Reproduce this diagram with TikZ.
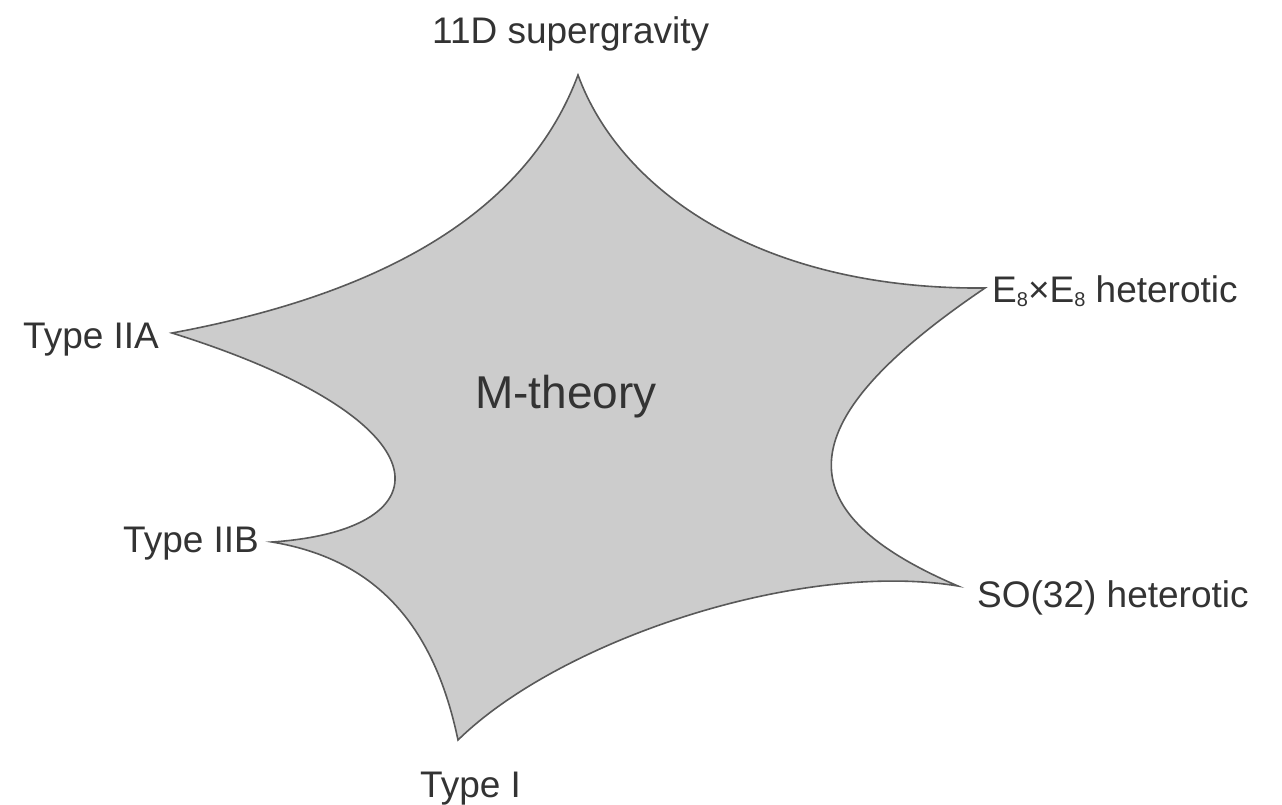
\documentclass[tikz,border=0pt]{standalone}
\usepackage{fontspec}
\setmainfont{Liberation Sans}
\newcommand{\smallsub}[1]{\raisebox{-0.25ex}{\fontsize{20}{24}\selectfont #1}}
\begin{document}
\begin{tikzpicture}[x=1pt,y=-1pt,
  lbl/.style={anchor=base west,inner sep=0pt,text=black!80,font=\fontsize{37}{44}\selectfont},
  big/.style={anchor=base west,inner sep=0pt,text=black!80,font=\fontsize{46}{54}\selectfont},
  blob/.style={fill=black!20,draw=black!65,line width=1.6pt,line join=miter}]
\useasboundingbox (0,0) rectangle (1282,804);
\coordinate (top) at (578,75);
\coordinate (ee) at (985,288);
\coordinate (so) at (958,586);
\coordinate (ti) at (458,740);
\coordinate (tb) at (272,542);
\coordinate (ta) at (172,333);
\draw[blob] (top) .. controls (620,190) and (760,290) .. (ee)
  .. controls (790,420) and (780,510) .. (so)
  .. controls (800,560) and (560,640) .. (ti)
  .. controls (435,630) and (380,560) .. (tb)
  .. controls (450,530) and (450,420) .. (ta)
  .. controls (350,300) and (520,230) .. (top) -- cycle;
\node[lbl] (l11) at (432,43) {11D supergravity};
\node[lbl] (lee) at (992,302) {E\smallsub{8}×E\smallsub{8} heterotic};
\node[lbl] (lso) at (977,607) {SO(32) heterotic};
\node[lbl] (lti) at (420,797) {Type I};
\node[lbl] (ltb) at (123,552) {Type IIB};
\node[lbl] (lta) at (23,348) {Type IIA};
\node[big] (lm) at (475,408) {M-theory};
\end{tikzpicture}
\end{document}
